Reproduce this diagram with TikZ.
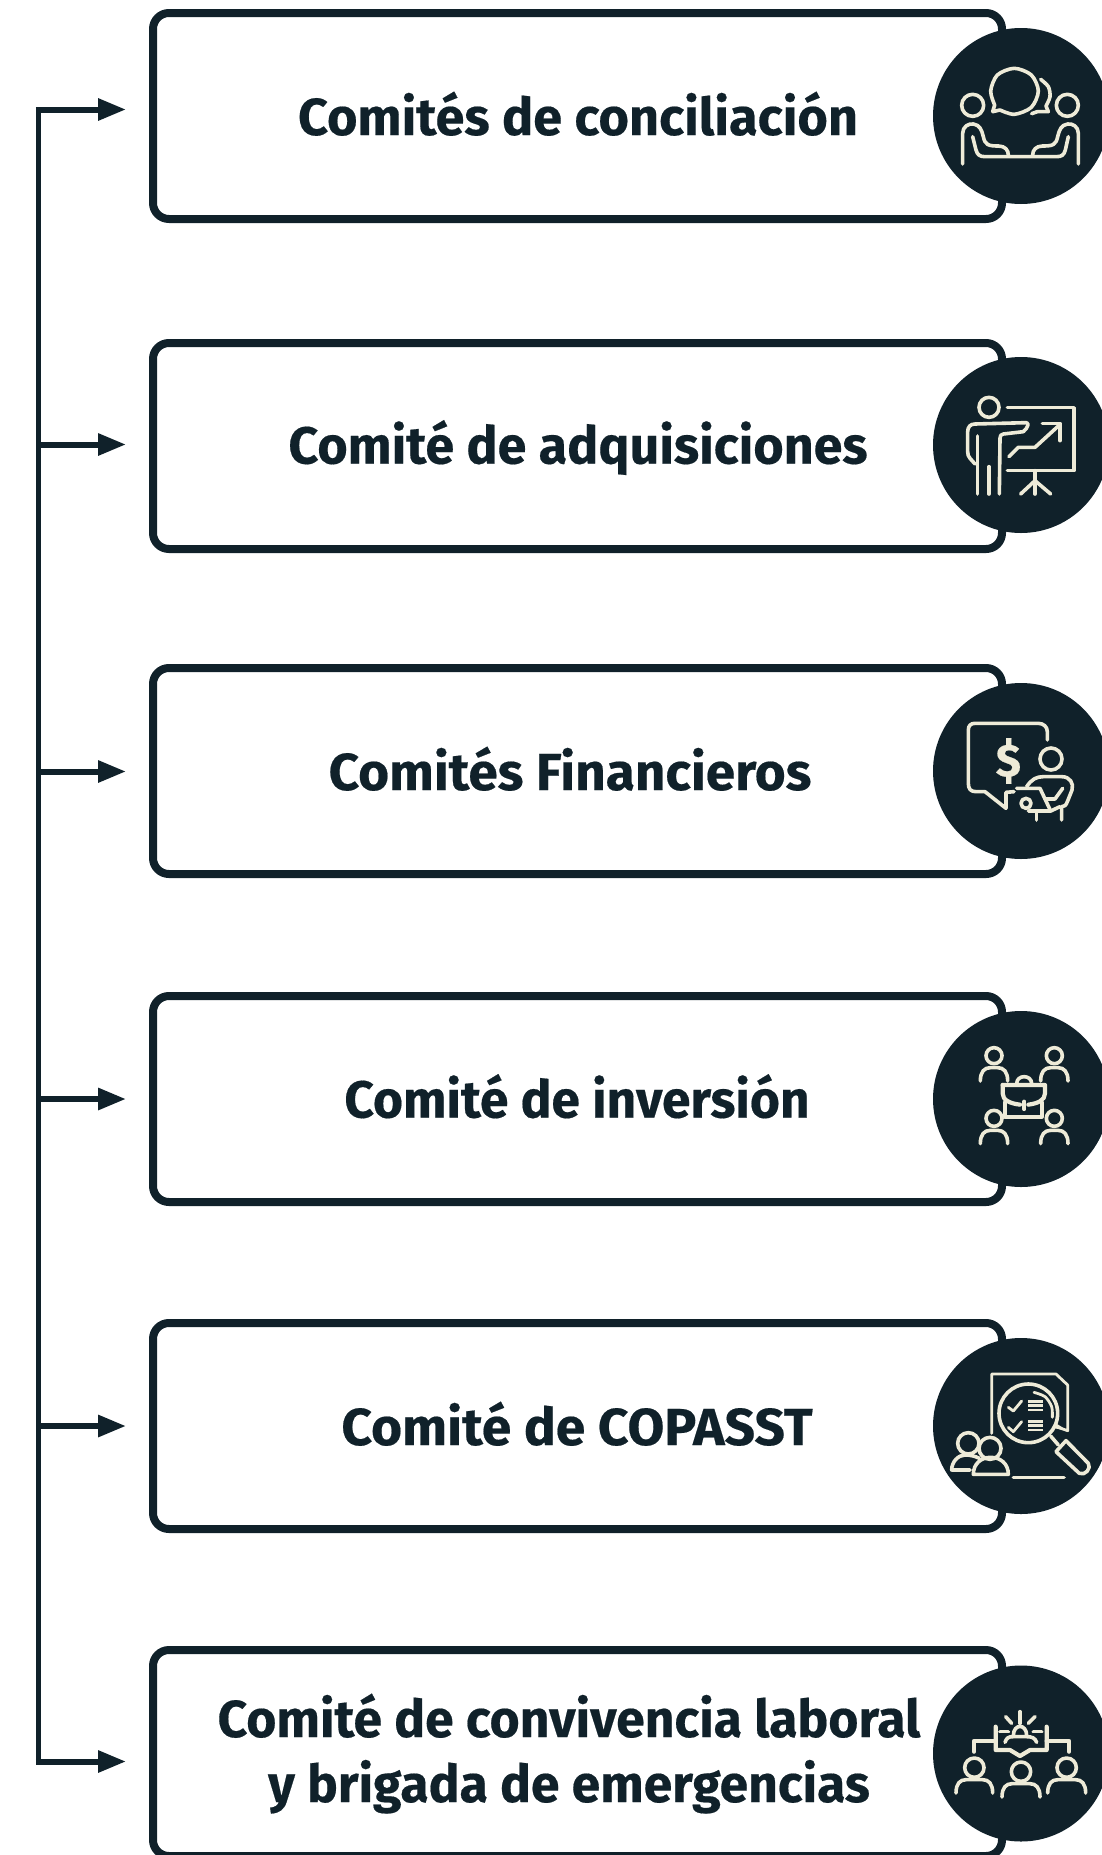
\documentclass[tikz,border=0pt]{standalone}
\usepackage{fontspec}
\setmainfont[BoldFeatures={FakeBold=0.35}]{Fira Sans}
\usetikzlibrary{arrows.meta}
\definecolor{ink}{HTML}{10212A}
\definecolor{cream}{HTML}{EEEBD8}
\tikzset{
  box/.style={draw=ink,fill=white,line width=8pt,rounded corners=16pt,minimum width=849pt,minimum height=206pt,inner sep=0pt,outer sep=0pt},
  disc/.style={circle,fill=ink,minimum size=176pt,inner sep=0pt,outer sep=0pt},
  lab/.style={anchor=base,text=ink,inner sep=0pt,align=center,font=\fontsize{52}{65}\selectfont\bfseries},
  wider/.style={xscale=#1,transform shape},
  trunk/.style={draw=ink,line width=5.5pt,line join=miter},
  feeder/.style={draw=ink,line width=6pt,-{Triangle[length=28pt,width=21pt]}},
  ic/.style={draw=cream,line width=3.6pt,line cap=round,line join=round},
  zoomed/.style={shift={#1},x=0.33333pt,y=-0.33333pt}
}
\newcommand{\bust}[4]{% x y headradius halfwidth
  \draw[ic] (#1,#2) circle[radius=#3];
  \draw[ic] (#1-#4,#2+76) .. controls (#1-#4,#2+48) and (#1-#4+12,#2+36) .. (#1-#4+30,#2+36) -- (#1+#4-30,#2+36) .. controls (#1+#4-12,#2+36) and (#1+#4,#2+48) .. (#1+#4,#2+76);
}
\begin{document}
\begin{tikzpicture}[x=1pt,y=-1pt]
\useasboundingbox (0,0) rectangle (1102,1855);
\clip (0,0) rectangle (1102,1855);
\fill[white] (0,0) rectangle (1102,1855);

\foreach \n/\c in {1/116,2/446,3/771,4/1099,5/1426,6/1753}{
  \node[box] (box\n) at (577.5,{\c}) {};
}
\node[disc] (disc1) at (1021,116) {};
\node[disc] (disc2) at (1021,445) {};
\node[disc] (disc3) at (1021,771) {};
\node[disc] (disc4) at (1021,1099) {};
\node[disc] (disc5) at (1021,1426) {};
\node[disc] (disc6) at (1021,1753.5) {};

\node[lab,wider=1.004] (t1) at (578,135) {Comités de conciliación};
\node[lab] (t2) at (578,463.5) {Comité de adquisiciones};
\node[lab,wider=1.02] (t3) at (570,790) {Comités Financieros};
\node[lab,wider=0.99] (t4) at (577,1117.5) {Comité de inversión};
\node[lab,wider=1.025] (t5) at (577,1445) {Comité de COPASST};
\node[lab,wider=0.992] (t6) at (569,1802) {Comité de convivencia laboral\\y brigada de emergencias};

% connectors
\coordinate (top) at (38.5,109.5);
\coordinate (bot) at (38.5,1761.5);
\coordinate (e1) at (126,109.5);
\coordinate (e2) at (126,444.5);
\coordinate (e3) at (126,771.5);
\coordinate (e4) at (126,1099);
\coordinate (e5) at (126,1426);
\coordinate (e6) at (126,1761.5);
\draw[trunk] (top) -- (bot);
\draw[feeder] ([xshift=-2.75pt]top) -- (e1);
\draw[feeder] ([xshift=-2.75pt]bot) -- (e6);
\foreach \k in {2,3,4,5}{ \draw[feeder] (top |- e\k) -- (e\k); }

% icon 1
\begin{scope}[zoomed={(920,20)}]
\draw[ic] (158,256) circle[radius=33];
\draw[ic] (442,256) circle[radius=33];
\draw[ic] (128,432) -- (128,340) .. controls (128,320) and (145,310) .. (160,312) .. controls (180,315) and (185,330) .. (190,350) .. controls (195,375) and (205,378) .. (235,378) .. controls (255,378) and (265,390) .. (265,405);
\draw[ic] (158,350) -- (168,390) .. controls (172,405) and (180,410) .. (195,410) -- (410,410) .. controls (425,410) and (432,405) .. (436,390) -- (445,350);
\draw[ic] (475,432) -- (475,340) .. controls (475,320) and (458,310) .. (443,312) .. controls (423,315) and (418,330) .. (413,350) .. controls (408,375) and (398,378) .. (368,378) .. controls (348,378) and (338,390) .. (338,405);
\draw[ic] (218,275) -- (224,255) plot[smooth] coordinates {(224,255) (212,213) (232,165) (283,145) (334,165) (355,213) (334,262) (283,283) (240,270)} -- (218,275);
\draw[ic] plot[smooth] coordinates {(362,178) (385,200) (390,230) (378,258)} -- (385,275) -- (352,275) -- (335,281);
\end{scope}

% icon 2
\begin{scope}[zoomed={(920,350)}]
\draw[ic] (207,172) circle[radius=30];
\draw[ic] (165,342) -- (150,325) .. controls (145,318) and (143,315) .. (143,305) -- (143,245) .. controls (143,230) and (152,222) .. (165,222) -- (318,218) .. controls (328,218) and (325,232) .. (310,245) -- (250,252) .. controls (242,253) and (240,258) .. (240,265) -- (238,432);
\draw[ic] (172,258) -- (172,432);
\draw[ic] (207,350) -- (207,432);
\draw[ic] (262,173) -- (462,173) -- (462,362) -- (262,362);
\draw[ic] (267,320) -- (295,292) -- (345,292) -- (415,228);
\draw[ic] (367,220) -- (420,220) -- (420,272);
\draw[ic] (345,362) -- (345,432);
\draw[ic] (302,432) -- (345,392) -- (392,432);
\end{scope}

% icon 3
\begin{scope}[zoomed={(920,675)}]
\draw[ic] (382,195) -- (382,170) .. controls (382,155) and (370,145) .. (355,145) -- (165,145) .. controls (152,145) and (145,152) .. (145,165) -- (145,325) .. controls (145,342) and (152,350) .. (168,350) -- (195,350) -- (258,400) -- (258,352) -- (282,350);
\node[text=cream,inner sep=0pt,font=\fontsize{46}{46}\selectfont\bfseries] (dollar) at (265,258) {\$};
\draw[ic] (393,252) circle[radius=33];
\draw[ic] (320,335) .. controls (335,312) and (350,305) .. (370,305) -- (425,305) .. controls (450,305) and (462,325) .. (456,345) -- (442,380) .. controls (438,392) and (432,395) .. (425,395) -- (425,435);
\draw[ic] (428,340) -- (405,372) -- (375,372);
\draw[ic] (290,340) -- (360,340) -- (392,408) -- (325,408);
\draw[ic] (318,385) circle[radius=15];
\draw[ic] (350,410) -- (350,435);
\draw[ic] (392,408) -- (420,395);
\end{scope}

% icon 4
\begin{scope}[zoomed={(920,1005)}]
\bust{222}{152}{24}{41}
\bust{403}{152}{24}{41}
\bust{222}{340}{24}{41}
\bust{403}{340}{24}{41}
\draw[ic,line width=4.2pt] (248,240) -- (375,240) -- (375,265) .. controls (375,285) and (355,295) .. (325,299);
\draw[ic,line width=4.2pt] (248,240) -- (248,265) .. controls (248,285) and (268,295) .. (300,299);
\draw[ic,line width=4.2pt] (255,292) -- (255,335) -- (365,335) -- (365,292);
\draw[ic,line width=4.2pt] (313,290) -- (313,312);
\draw[ic] (290,236) .. controls (290,208) and (335,208) .. (335,236);
\end{scope}

% icon 5
\begin{scope}[zoomed={(920,1330)}]
\draw[ic,line width=2.8pt] (215,310) -- (215,132) -- (408,132) -- (443,165) -- (443,302) -- (408,290);
\fill[cream] (405,278) -- (443,302) -- (405,295) -- cycle;
\draw[ic] (325,250) circle[radius=88];
\draw[ic,line width=2.8pt] plot[smooth] coordinates {(342,187) (375,200) (395,230) (397,262)};
\draw[ic,line width=2.8pt] (265,232) -- (280,243) -- (305,213);
\draw[ic,line width=2.8pt] (265,292) -- (280,305) -- (305,275);
\foreach \yy in {215,227,240,275,287,300}{ \draw[draw=cream,line width=2.8pt] (325,\yy) -- (370,\yy); }
\draw[ic] (392,318) -- (415,345);
\draw[ic] (408,365) -- (438,332) -- (505,400) .. controls (515,415) and (495,438) .. (478,430) -- cycle;
\draw[ic] (280,443) -- (432,443);
\draw[ic] (145,340) circle[radius=32];
\draw[ic] (178,385) .. controls (165,378) and (150,375) .. (135,375) .. controls (115,375) and (95,395) .. (95,420) -- (150,420);
\draw[ic] (210,355) circle[radius=33];
\draw[ic] (160,433) .. controls (160,400) and (185,382) .. (212,382) .. controls (240,382) and (265,400) .. (265,433) -- cycle;
\end{scope}

% icon 6
\begin{scope}[zoomed={(920,1655)}]
\bust{163}{338}{29}{55}
\bust{303}{350}{29}{57}
\bust{440}{338}{29}{57}
\draw[ic,line width=4.2pt] (162,290) -- (162,258) -- (227,258);
\draw[ic,line width=4.2pt] (227,215) -- (227,285) -- (270,285) -- (300,303) -- (330,285) -- (380,285) -- (380,215);
\draw[ic,line width=4.2pt] (380,258) -- (447,258) -- (447,290);
\draw[ic] (300,170) -- (300,205);
\draw[ic] (257,185) -- (275,205);
\draw[ic] (345,185) -- (325,205);
\draw[ic] (240,230) -- (265,230);
\draw[ic] (340,230) -- (365,230);
\draw[ic] (280,242) .. controls (280,205) and (320,205) .. (320,242);
\draw[ic] (255,262) .. controls (260,248) and (265,245) .. (280,245) -- (320,245) .. controls (335,245) and (345,248) .. (350,262);
\end{scope}
\end{tikzpicture}
\end{document}
